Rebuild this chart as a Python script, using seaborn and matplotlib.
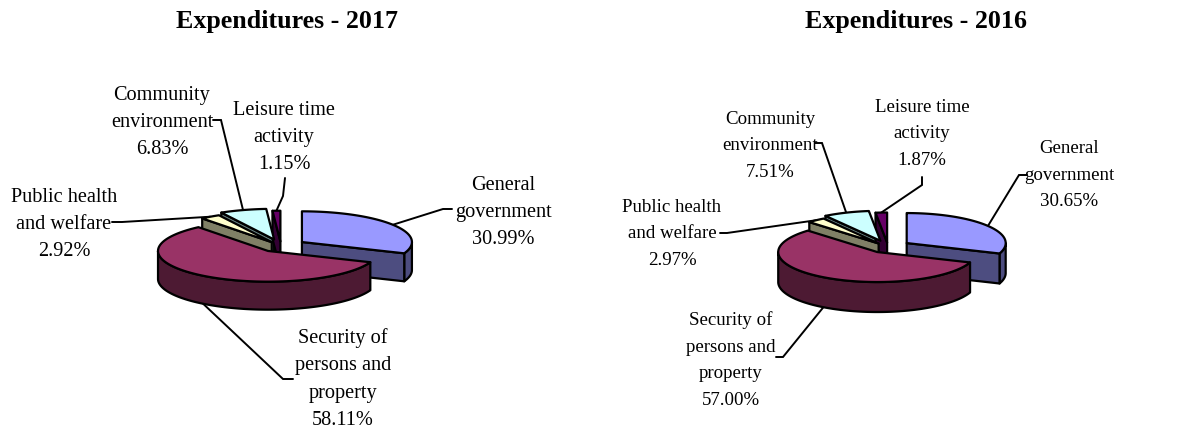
import numpy as np
import matplotlib
matplotlib.use("Agg")
import matplotlib.pyplot as plt
from matplotlib.patches import Polygon
from matplotlib.colors import to_rgb
import seaborn as sns

# ---------------- data ----------------
categories = ["General government", "Security of persons and property",
              "Public health and welfare", "Community environment",
              "Leisure time activity"]
label_lines = ["General\ngovernment", "Security of\npersons and\nproperty",
               "Public health\nand welfare", "Community\nenvironment",
               "Leisure time\nactivity"]
values_2017 = [30.99, 58.11, 2.92, 6.83, 1.15]
values_2016 = [30.65, 57.00, 2.97, 7.51, 1.87]
titles = ["Expenditures - 2017", "Expenditures - 2016"]

# ---------------- style ----------------
sns.set_theme(style="white")
plt.rcParams["font.family"] = ["Liberation Serif", "DejaVu Serif"]

top_colors = ["#9999FF", "#993366", "#FFFFCC", "#CCFFFF", "#660066"]
side_colors = [tuple(0.5 * c for c in to_rgb(col)) for col in top_colors]
explode = [0.23, 0.20, 0.15, 0.22, 0.15]

# layout (pixel coordinates of the figure)
layouts = [
    dict(cx=281, cy=246, a=110, b=30.7, d=28, fs=14.6, ls=1.59, title_x=287,
         text=[(503, 212.5), (343, 379), (64, 224.5), (162, 122.5), (284, 137.5)],
         lead=[[(452, 209), (443, 209)], [(293, 379), (283, 379)],
               [(112, 222), (122, 222)], [(213, 120), (221, 120)],
               [(285, 178), (283, 196)]]),
    dict(cx=888, cy=247, a=99, b=30, d=30, fs=13.6, ls=1.73, title_x=916,
         text=[(1069, 175), (731, 360), (672, 234), (770, 146), (922, 134)],
         lead=[[(1027, 175), (1019, 175)], [(776, 357), (783, 357)],
               [(720, 233), (727, 233)], [(815, 143), (822, 143)],
               [(922, 177), (922, 185)]]),
]

fig = plt.figure(figsize=(12.04, 4.30), dpi=100)
ax = fig.add_axes([0, 0, 1, 1])
ax.set_xlim(0, 1204)
ax.set_ylim(430, 0)
ax.axis("off")


def draw_pie(ax, values, L, title):
    v = np.asarray(values, float)
    fr = v / v.sum()
    cx, cy, a, b, d = L["cx"], L["cy"], L["a"], L["b"], L["d"]
    t_start = 90 - np.concatenate([[0], np.cumsum(fr)[:-1]]) * 360
    t_end = t_start - fr * 360
    walls, tops = [], []
    for i in range(len(v)):
        t1, t2 = np.radians(t_start[i]), np.radians(t_end[i])
        mid = (t1 + t2) / 2
        ox = cx + explode[i] * a * np.cos(mid)
        oy = cy - explode[i] * b * np.sin(mid)
        th = np.linspace(t1, t2, 400)
        xs = ox + a * np.cos(th)
        ys = oy - b * np.sin(th)
        tops.append((ys.max(), np.column_stack([np.r_[ox, xs], np.r_[oy, ys]]), top_colors[i]))
        idx = np.flatnonzero(np.sin(th) < 0)
        if idx.size > 1:
            runs = np.split(idx, np.flatnonzero(np.diff(idx) > 1) + 1)
            for r in runs:
                if r.size < 2:
                    continue
                px, py = xs[r], ys[r]
                poly = np.column_stack([np.r_[px, px[::-1]], np.r_[py, py[::-1] + d]])
                walls.append((py.max(), poly, side_colors[i]))
        for t, sgn in ((t1, 1), (t2, -1)):
            if np.sin(t + sgn * np.pi / 2) < -1e-6:
                rx, ry = ox + a * np.cos(t), oy - b * np.sin(t)
                poly = np.array([(ox, oy), (rx, ry), (rx, ry + d), (ox, oy + d)])
                walls.append((max(oy, ry), poly, side_colors[i]))
        # label + leader
        ax_, ay_ = ox + a * np.cos(mid), oy - b * np.sin(mid)
        if np.sin(mid) < 0:
            ay_ += d
        pts = L["lead"][i] + [(ax_, ay_)]
        ax.plot([p[0] for p in pts], [p[1] for p in pts], color="black", lw=1.4,
                solid_joinstyle="miter", zorder=1)
        tx, ty = L["text"][i]
        ax.text(tx, ty, f"{label_lines[i]}\n{v[i]:.2f}%", ha="center", va="center",
                fontsize=L["fs"], linespacing=L["ls"], color="black", zorder=5)
    z = 2
    for key, poly, col in sorted(walls, key=lambda w: w[0]):
        ax.add_patch(Polygon(poly, closed=True, facecolor=col, edgecolor="black",
                             lw=1.6, joinstyle="round", zorder=z))
        z += 0.01
    for key, poly, col in sorted(tops, key=lambda w: w[0]):
        ax.add_patch(Polygon(poly, closed=True, facecolor=col, edgecolor="black",
                             lw=1.6, joinstyle="round", zorder=3 + z))
        z += 0.01
    ax.text(L["title_x"], 21.5, title, ha="center", va="center", fontsize=18.7,
            fontweight="bold", color="black")


draw_pie(ax, values_2017, layouts[0], titles[0])
draw_pie(ax, values_2016, layouts[1], titles[1])

fig.savefig("out.png", dpi=100, facecolor="white")
